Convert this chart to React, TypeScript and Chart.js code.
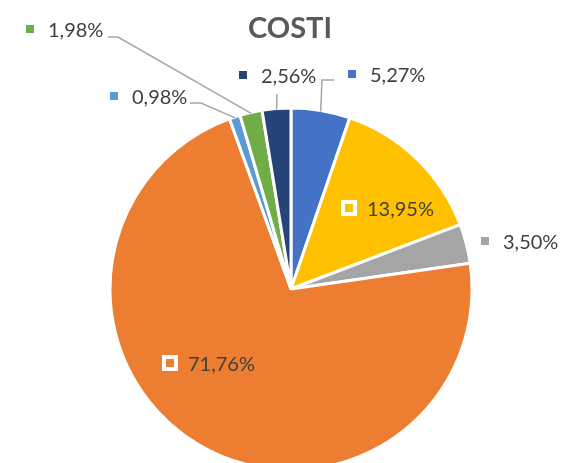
import React, { useEffect, useRef } from "react";
import { Chart, registerables } from "chart.js";

Chart.register(...registerables);

const categories = ["Voce A", "Voce B", "Voce C", "Voce D", "Voce E", "Voce F", "Voce G"];
const values = [5.27, 13.95, 3.5, 71.76, 0.98, 1.98, 2.56];
const colors = ["#4472C4", "#FFC000", "#A5A5A5", "#ED7D31", "#5B9BD5", "#70AD47", "#264478"];
const titleText = "COSTI";

// label placement (square centre relative to pie centre), inside/outside, leader points relative to pie centre
type LabelLayout = { sx: number; sy: number; inside: boolean; leader: [number, number][] };
const labelLayout: LabelLayout[] = [
  { sx: 61, sy: -215, inside: false, leader: [[31, -209], [43, -209]] },
  { sx: 58, sy: -81, inside: true, leader: [] },
  { sx: 194, sy: -48, inside: false, leader: [] },
  { sx: -121, sy: 74, inside: true, leader: [] },
  { sx: -177, sy: -193, inside: false, leader: [[-90, -186], [-101, -186]] },
  { sx: -261, sy: -260, inside: false, leader: [[-173, -252], [-183, -252]] },
  { sx: -48, sy: -214, inside: false, leader: [[-14, -195]] },
];

const fmt = (v: number) => v.toFixed(2).replace(".", ",") + "%";

const labelPlugin = {
  id: "customLabels",
  afterDatasetsDraw(chart: any) {
    const ctx = chart.ctx as CanvasRenderingContext2D;
    const meta = chart.getDatasetMeta(0);
    ctx.save();
    meta.data.forEach((arc: any, i: number) => {
      const { x, y, startAngle, endAngle, outerRadius } = arc.getProps(
        ["x", "y", "startAngle", "endAngle", "outerRadius"],
        true
      );
      const L = labelLayout[i];
      const mid = (startAngle + endAngle) / 2;
      if (L.leader.length) {
        const ax = x + Math.cos(mid) * (outerRadius - 1);
        const ay = y + Math.sin(mid) * (outerRadius - 1);
        ctx.beginPath();
        ctx.strokeStyle = "#A6A6A6";
        ctx.lineWidth = 1.5;
        ctx.moveTo(ax, ay);
        L.leader.forEach(([px, py]) => ctx.lineTo(x + px, y + py));
        ctx.stroke();
      }
      const sx = x + L.sx;
      const sy = y + L.sy;
      if (L.inside) {
        ctx.fillStyle = colors[i];
        ctx.fillRect(sx - 6, sy - 6, 12, 12);
        ctx.strokeStyle = "#FFFFFF";
        ctx.lineWidth = 4;
        ctx.strokeRect(sx - 6, sy - 6, 12, 12);
      } else {
        ctx.fillStyle = colors[i];
        ctx.fillRect(sx - 4, sy - 4, 8, 8);
      }
      ctx.fillStyle = "#404040";
      ctx.font = "20px Lato";
      ctx.textAlign = "left";
      ctx.textBaseline = "alphabetic";
      ctx.fillText(fmt(values[i]), sx + 18, sy + 7.5);
    });
    ctx.fillStyle = "#595959";
    ctx.font = "bold 29px Lato";
    ctx.textAlign = "center";
    ctx.fillText(titleText, 290, 38);
    ctx.restore();
  },
};

export default function App() {
  const ref = useRef<HTMLCanvasElement>(null);
  useEffect(() => {
    if (!ref.current) return;
    const chart = new Chart(ref.current, {
      type: "pie",
      data: {
        labels: categories,
        datasets: [
          {
            data: values,
            backgroundColor: colors,
            borderColor: "#FFFFFF",
            borderWidth: 3,
            radius: 181,
            clip: false as any,
          } as any,
        ],
      },
      options: {
        responsive: false,
        animation: false,
        devicePixelRatio: 1,
        layout: { padding: { left: 21, right: 0, top: 115, bottom: 0 } },
        plugins: {
          legend: { display: false },
          title: { display: false },
          tooltip: { enabled: false },
        },
      },
      plugins: [labelPlugin],
    });
    return () => chart.destroy();
  }, []);
  return (
    <div style={{ position: "absolute", left: 0, top: 0, width: 561, height: 463, overflow: "hidden", background: "#fff" }}>
      <canvas ref={ref} width={561} height={463} style={{ width: 561, height: 463, display: "block" }} />
    </div>
  );
}
